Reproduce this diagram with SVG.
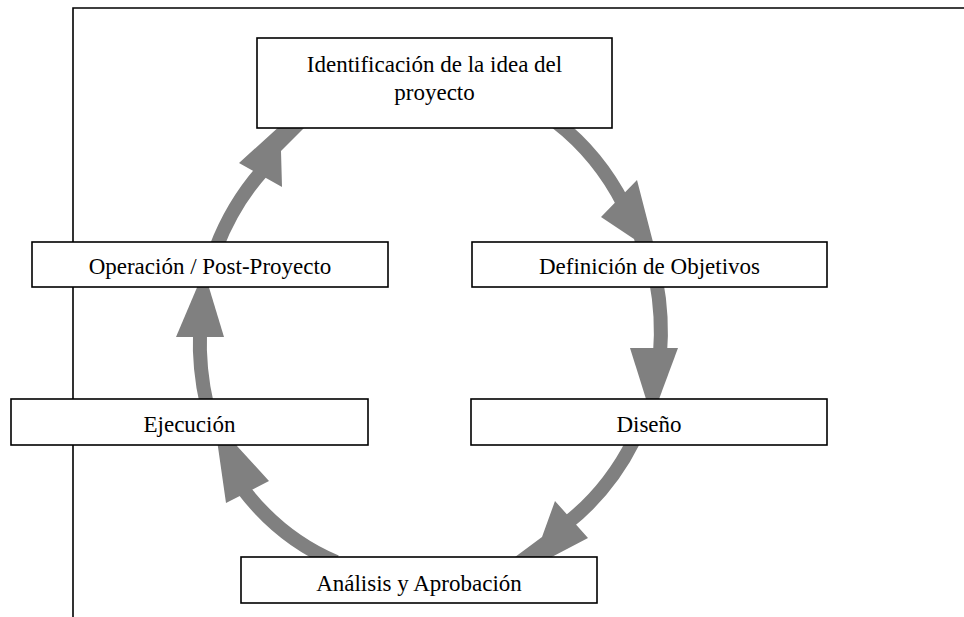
<svg xmlns="http://www.w3.org/2000/svg" width="964" height="617" viewBox="0 0 964 617">
<style>
.frame{fill:none;stroke:#000;stroke-width:1.6}
.box{fill:#fff;stroke:#000;stroke-width:1.6}
.lbl{font-family:"Liberation Serif","Times New Roman",serif;font-size:23px;text-anchor:middle;fill:#000}
.band{fill:none;stroke:#808080;stroke-width:14}
.head{fill:#808080}
</style>
<rect width="964" height="617" fill="#fff"/>
<path class="frame" d="M73 617 V8 H964"/>
<g id="connectors">
  <path class="band" d="M556 122 A228 251 0 0 1 624 205"/>
  <polygon class="head" points="637,180 601,217 634,239 636,246 654,246"/>
  <path class="band" d="M656 280 A228 251 0 0 1 660 354"/>
  <polygon class="head" points="630,348 678,348 652,418"/>
  <path class="band" d="M634 440 A228 251 0 0 1 566 524"/>
  <polygon class="head" points="555,501 542,537 511,560 546,560 588,538"/>
  <path class="band" d="M336 562 A228 251 0 0 1 243 489"/>
  <polygon class="head" points="226,503 269,481 237,446 235,440 217,440"/>
  <path class="band" d="M207 405 A228 251 0 0 1 200 332"/>
  <polygon class="head" points="176,337 224,337 204,271"/>
  <path class="band" d="M216 248 A228 251 0 0 1 263 170"/>
  <polygon class="head" points="239,163 282,124 308,124 281,151 282,187"/>
</g>
<g id="identificacion">
  <rect class="box" x="257" y="38" width="355" height="90"/>
  <text class="lbl" x="434.5" y="72">Identificación de la idea del</text>
  <text class="lbl" x="434.5" y="100">proyecto</text>
</g>
<g id="definicion">
  <rect class="box" x="472" y="242" width="355" height="45"/>
  <text class="lbl" x="649.5" y="274">Definición de Objetivos</text>
</g>
<g id="diseno">
  <rect class="box" x="471" y="399" width="356" height="46"/>
  <text class="lbl" x="649" y="432">Diseño</text>
</g>
<g id="analisis">
  <rect class="box" x="241" y="557" width="356" height="46"/>
  <text class="lbl" x="419" y="591">Análisis y Aprobación</text>
</g>
<g id="ejecucion">
  <rect class="box" x="11" y="399" width="357" height="46"/>
  <text class="lbl" x="189.5" y="432">Ejecución</text>
</g>
<g id="operacion">
  <rect class="box" x="32" y="242" width="356" height="45"/>
  <text class="lbl" x="210" y="274">Operación / Post-Proyecto</text>
</g>
</svg>
